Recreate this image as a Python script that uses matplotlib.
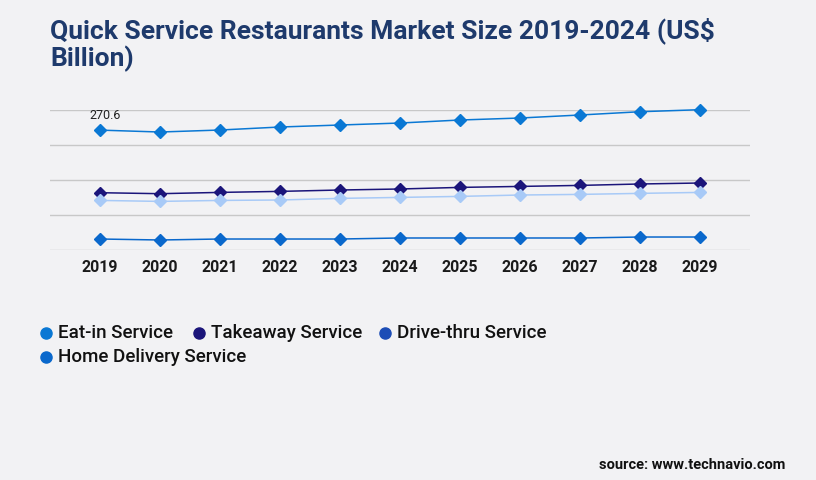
import matplotlib
matplotlib.use("Agg")
from matplotlib import pyplot as plt

years = [2019, 2020, 2021, 2022, 2023, 2024, 2025, 2026, 2027, 2028, 2029]
eat_in = [270.6, 266.3, 270.8, 277.6, 282.1, 286.6, 293.4, 297.9, 304.7, 312.1, 316.7]
takeaway = [129.3, 127.1, 130.0, 132.3, 135.4, 137.7, 141.3, 143.5, 145.8, 149.0, 151.2]
drive_thru = [111.9, 109.7, 111.9, 112.9, 116.5, 118.7, 121.0, 124.1, 125.5, 127.8, 130.0]
home_delivery = [24.8, 22.6, 24.8, 24.8, 24.8, 27.1, 27.1, 27.1, 27.1, 29.3, 29.3]
series_names = ["Eat-in Service", "Takeaway Service", "Drive-thru Service", "Home Delivery Service"]

line_colors = ["#0a78d4", "#1b157a", "#a8caf7", "#0a68cc"]
legend_colors = ["#0a78d4", "#1b157a", "#1c4db6", "#0a68cc"]
bg = "#f2f2f4"

plt.rcParams["font.family"] = ["Roboto", "DejaVu Sans"]

fig = plt.figure(figsize=(8.16, 4.8), dpi=100, facecolor=bg)
W, H = 816, 480
ax = fig.add_axes([50 / W, 1 - 250 / H, 700 / W, 140 / H])
ax.set_facecolor(bg)

for vals, col in zip([eat_in, takeaway, drive_thru, home_delivery], line_colors):
    ax.plot(years, vals, color=col, lw=1.1, marker="D", ms=6.5, zorder=3, clip_on=False)

ax.annotate("270.6", (years[0], eat_in[0]), xytext=(4, 6), textcoords="offset points",
            ha="center", va="bottom", fontsize=9, color="#222222")

ax.set_xlim(2019 - 50 / 60, 2029 + 50 / 60)
ax.set_ylim(0, 316)
ax.set_yticks([0, 79, 158, 237, 316])
ax.set_yticklabels([])
ax.set_xticks(years)
ax.set_xticklabels([str(y) for y in years], fontsize=11.5, fontweight="bold", color="#1a1a1a")
ax.tick_params(length=0, pad=7)
ax.grid(axis="y", color="#c8c8c8", lw=1)
ax.set_axisbelow(True)
for s in ax.spines.values():
    s.set_visible(False)

fig.text(50 / W, 1 - 17 / H, "Quick Service Restaurants Market Size 2019-2024 (US$\nBillion)",
         ha="left", va="top", fontsize=19, fontweight="bold", color="#1e3a6c",
         linespacing=1.1)

# legend drawn by hand
leg_pos = [(46, 333), (199, 333), (385, 333), (46, 357)]
for name, col, (px, py) in zip(series_names, legend_colors, leg_pos):
    fig.lines.append(plt.Line2D([px / W], [1 - py / H], marker="o", ms=8, color=col,
                                transform=fig.transFigure, figure=fig))
    fig.text((px + 12) / W, 1 - py / H, name, ha="left", va="center", fontsize=13.5,
             fontweight="medium", color="#111111")

fig.text(785 / W, 1 - 465 / H, "source: www.technavio.com", ha="right", va="center",
         fontsize=10.5, fontweight="bold", color="#111111")

fig.savefig("out.png", dpi=100, facecolor=bg)
